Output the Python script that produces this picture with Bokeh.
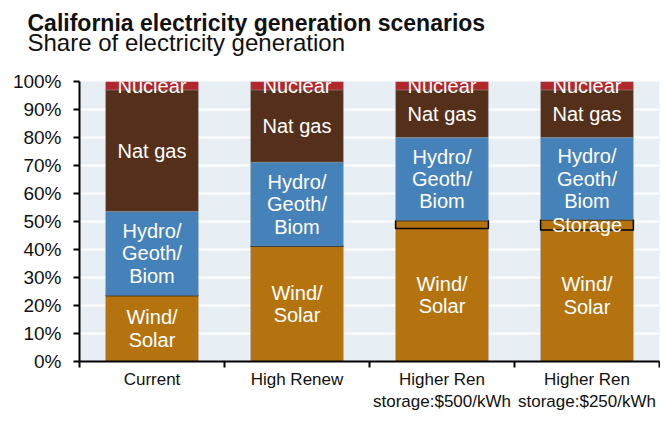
import numpy as np
from bokeh.plotting import figure
from bokeh.models import (ColumnDataSource, FixedTicker, PrintfTickFormatter, Title, Range1d)
from bokeh.core.properties import value
from bokeh.embed import file_html
from bokeh.resources import INLINE

# ---- data ----
title_text = "California electricity generation scenarios"
subtitle_text = "Share of electricity generation"
categories = ["Current", "High Renew", "Higher Ren\nstorage:$500/kWh", "Higher Ren\nstorage:$250/kWh"]
wind_solar = [23.6, 41.2, 47.5, 47.0]
storage = [0.0, 0.0, 2.9, 3.6]
hydro_geo_biom = [30.0, 30.0, 29.6, 29.4]
nat_gas = [43.4, 25.8, 17.0, 17.0]
nuclear = [3.0, 3.0, 3.0, 3.0]
storage_labels = ["", "", "", "Storage"]
y_ticks = [0, 10, 20, 30, 40, 50, 60, 70, 80, 90, 100]

FONT = "Liberation Sans"
C_WIND = "#B4730F"
C_HYDRO = "#4682BA"
C_GAS = "#54301B"
C_NUC = "#B1282C"

n = len(categories)
xc = np.arange(n) + 0.5

series = [wind_solar, storage, hydro_geo_biom, nat_gas, nuclear]
tops = np.cumsum(np.array(series, dtype=float), axis=0)
bottoms = tops - np.array(series, dtype=float)

p = figure(width=660, height=414, output_backend="svg", toolbar_location=None,
           x_range=Range1d(0, 4.0), y_range=Range1d(0, 100), title=None,
           min_border_left=79, min_border_right=1, min_border_bottom=51, min_border_top=80)

p.add_layout(Title(text=subtitle_text, text_font=FONT, text_font_size="24px",
                   text_font_style="normal", text_color="#111111", align="left", offset=-52,
                   standoff=52), "above")
p.add_layout(Title(text=title_text, text_font=FONT, text_font_size="23px",
                   text_font_style="bold", text_color="#111111",
                   align="left", offset=-52, standoff=-70), "above")

p.background_fill_color = "#E8EFF4"
p.border_fill_color = "white"
p.outline_line_color = None

p.xgrid.grid_line_color = None
p.ygrid.grid_line_color = "white"
p.ygrid.grid_line_width = 2
p.ygrid.ticker = FixedTicker(ticks=y_ticks)

W = 0.64
colors = [C_WIND, C_WIND, C_HYDRO, C_GAS, C_NUC]
for i, col in enumerate(colors):
    src = ColumnDataSource(dict(x=xc, top=tops[i], bottom=bottoms[i]))
    if i == 1:
        p.vbar(x="x", top="top", bottom="bottom", width=W, source=src,
               fill_color=col, line_color="black", line_width=1.5)
    else:
        p.vbar(x="x", top="top", bottom="bottom", width=W, source=src,
               fill_color=col, line_color="#9aa4ad", line_width=0.6, line_alpha=0.6)

# segment labels
lab_x, lab_y, lab_t = [], [], []
names = ["Wind/\nSolar", None, "Hydro/\nGeoth/\nBiom", "Nat gas", "Nuclear"]
for i, nm in enumerate(names):
    for j in range(n):
        t = nm if nm is not None else storage_labels[j]
        if t:
            lab_x.append(xc[j])
            lab_y.append((tops[i][j] + bottoms[i][j]) / 2)
            lab_t.append(t)
p.text(x=lab_x, y=lab_y, text=lab_t, text_align="center", text_baseline="middle",
       text_color="white", text_font=value(FONT), text_font_size="20px", text_line_height=1.02)

# axes
p.yaxis.ticker = FixedTicker(ticks=y_ticks)
p.yaxis.formatter = PrintfTickFormatter(format="%d%%")
p.yaxis.major_label_text_font = FONT
p.yaxis.major_label_text_font_size = "19px"
p.yaxis.major_label_text_color = "#111111"
p.yaxis.axis_line_width = 2
p.yaxis.axis_line_color = "black"
p.yaxis.major_tick_line_width = 2
p.yaxis.major_tick_out = 6
p.yaxis.major_tick_in = 0
p.yaxis.minor_tick_line_color = None
p.yaxis.major_label_standoff = 12

p.xaxis.ticker = FixedTicker(ticks=list(xc), minor_ticks=list(range(n + 1)))
p.xaxis.major_label_overrides = {float(x): c for x, c in zip(xc, categories)}
p.xaxis.major_label_text_font = FONT
p.xaxis.major_label_text_font_size = "17px"
p.xaxis.major_label_text_color = "#111111"
p.xaxis.axis_line_width = 2
p.xaxis.axis_line_color = "black"
p.xaxis.major_tick_out = 0
p.xaxis.major_tick_in = 0
p.xaxis.minor_tick_out = 6
p.xaxis.minor_tick_in = 0
p.xaxis.minor_tick_line_width = 2
p.xaxis.minor_tick_line_color = "black"
p.xaxis.major_label_standoff = 2

open("out.html", "w").write(file_html(p, INLINE))
